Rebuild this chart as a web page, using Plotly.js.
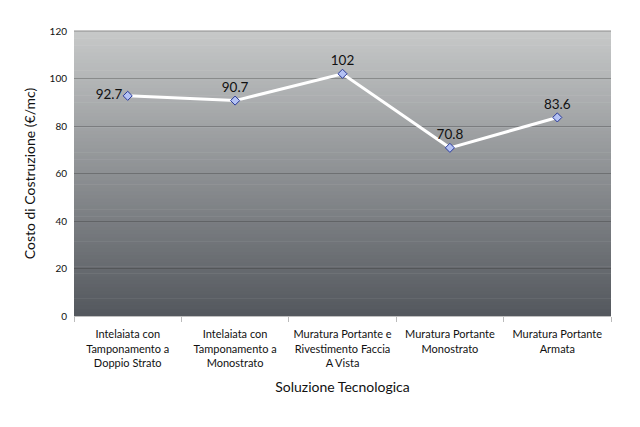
<!DOCTYPE html>
<html>
<head>
<meta charset="utf-8">
<script src="https://cdn.plot.ly/plotly-3.0.1.min.js"></script>
<style>
  html, body { margin: 0; padding: 0; background: #fff; }
  #plot { width: 640px; height: 427px; }
</style>
</head>
<body>
<div id="plot"></div>
<script>
const categories = [
  'Intelaiata con<br>Tamponamento a<br>Doppio Strato',
  'Intelaiata con<br>Tamponamento a<br>Monostrato',
  'Muratura Portante e<br>Rivestimento Faccia<br>A Vista',
  'Muratura Portante<br>Monostrato',
  'Muratura Portante<br>Armata'
]
const costs = [92.7, 90.7, 102, 70.8, 83.6]
const labelPositions = ['middle left', 'top center', 'top center', 'top center', 'top center']
const yTicks = [0, 20, 40, 60, 80, 100, 120]

const font = '"Century Gothic", "Lato", "DejaVu Sans", sans-serif'

// gradient background for the plot area, built from thin bands
const topColor = [198, 200, 200], bottomColor = [84, 88, 94]
const bands = 80
const shapes = []
for (let i = 0; i < bands; i++) {
  const t = i / (bands - 1)
  const c = topColor.map((v, k) => Math.round(v + (bottomColor[k] - v) * t))
  shapes.push({
    type: 'rect', xref: 'paper', yref: 'paper', layer: 'below',
    x0: 0, x1: 1, y1: 1 - i / bands, y0: Math.max(0, 1 - (i + 1) / bands - 0.002),
    fillcolor: `rgb(${c[0]},${c[1]},${c[2]})`, line: {width: 0}
  })
}
// top border of the plot area
shapes.push({type: 'line', xref: 'paper', yref: 'paper', x0: 0, x1: 1, y0: 1, y1: 1,
  line: {color: '#8c8c8c', width: 1}})

const trace = {
  x: categories,
  y: costs,
  type: 'scatter',
  mode: 'lines+markers+text',
  text: costs.map(String),
  textposition: labelPositions,
  textfont: {family: font, size: 13.5, color: '#111'},
  line: {color: '#ffffff', width: 3},
  marker: {symbol: 'diamond', size: 7, color: '#b4c2f4', line: {color: '#2a3a9a', width: 1}},
  cliponaxis: false,
  hoverinfo: 'x+y'
}

const layout = {
  width: 640, height: 427,
  margin: {l: 74, r: 29, t: 31, b: 111},
  paper_bgcolor: '#ffffff',
  plot_bgcolor: 'rgba(0,0,0,0)',
  showlegend: false,
  shapes: shapes,
  font: {family: font, color: '#111'},
  xaxis: {
    type: 'category',
    tickson: 'boundaries',
    ticks: 'outside', ticklen: 5, tickcolor: '#bbb',
    tickangle: 0,
    ticklabelstandoff: 8,
    showline: true, linecolor: '#c0c0c0', linewidth: 1,
    showgrid: false,
    tickfont: {family: font, size: 11, color: '#111'},
    title: {text: 'Soluzione Tecnologica', font: {family: font, size: 14, color: '#111'}, standoff: 14},
    range: [-0.5, 4.5]
  },
  yaxis: {
    range: [0, 120],
    tickvals: yTicks,
    showgrid: true, gridcolor: 'rgba(40,40,40,0.3)', gridwidth: 1,
    zeroline: false,
    showline: false,
    ticks: '',
    ticklabelstandoff: 6,
    tickfont: {family: font, size: 10, color: '#111'},
    title: {text: 'Costo di Costruzione (€/mc)', font: {family: font, size: 14, color: '#111'}, standoff: 10}
  }
}

Plotly.newPlot('plot', [trace], layout, {displayModeBar: false, staticPlot: true})
</script>
</body>
</html>
